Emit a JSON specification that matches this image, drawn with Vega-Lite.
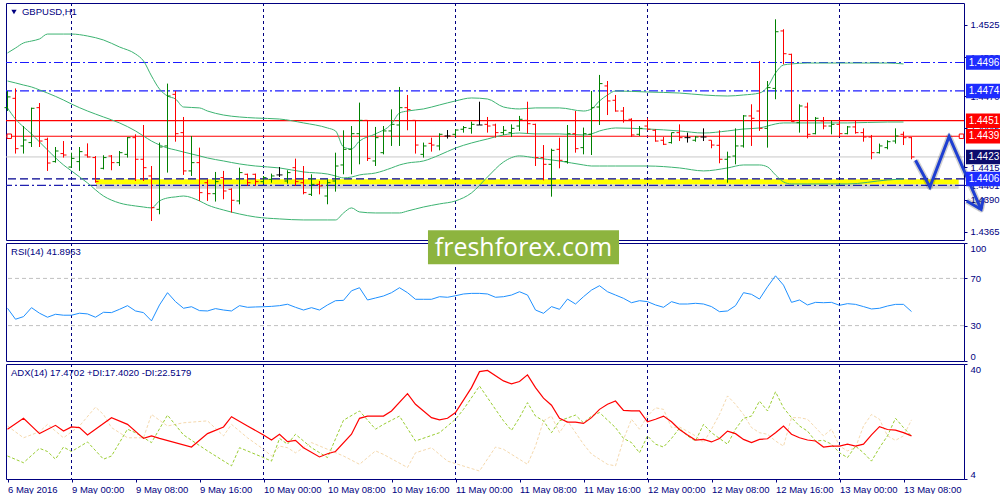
{
"$schema": "https://vega.github.io/schema/vega-lite/v6.json",
"background": "#ffffff",
"padding": {"left": 2, "top": 2, "right": 0, "bottom": 0},
"spacing": 3,
"bounds": "flush",
"config": {"view": {"stroke": "#000080", "strokeWidth": 1}, "font": "Liberation Sans",
  "axis": {"labelOverlap": false, "labelFont": "Liberation Sans", "labelFontSize": 9.5, "labelColor": "#000080", "tickColor": "#000080", "domain": false, "grid": false, "tickSize": 3}},
"resolve": {"scale": {"x": "independent", "y": "independent", "color": "independent", "strokeDash": "independent"}},
"datasets": {
"bars": [
{"i":0,"o":1.44611,"h":1.44740,"l":1.44585,"c":1.44694,"r":44.7},
{"i":1,"o":1.44683,"h":1.44760,"l":1.44256,"c":1.44294,"r":35.4},
{"i":2,"o":1.44315,"h":1.44469,"l":1.44256,"c":1.44361,"r":37.6},
{"i":3,"o":1.44341,"h":1.44611,"l":1.44307,"c":1.44606,"r":45.2},
{"i":4,"o":1.44611,"h":1.44647,"l":1.44307,"c":1.44353,"r":40.5},
{"i":5,"o":1.44366,"h":1.44379,"l":1.44122,"c":1.44183,"r":37.1},
{"i":6,"o":1.44194,"h":1.44307,"l":1.44186,"c":1.44276,"r":39.6},
{"i":7,"o":1.44256,"h":1.44353,"l":1.44225,"c":1.44245,"r":38.8},
{"i":8,"o":1.44152,"h":1.44263,"l":1.44147,"c":1.44219,"r":38.8},
{"i":9,"o":1.44194,"h":1.44307,"l":1.44122,"c":1.44271,"r":40.5},
{"i":10,"o":1.44245,"h":1.44335,"l":1.44225,"c":1.44230,"r":39.9},
{"i":11,"o":1.44225,"h":1.44237,"l":1.44031,"c":1.44039,"r":37.1},
{"i":12,"o":1.44142,"h":1.44243,"l":1.44134,"c":1.44225,"r":41.3},
{"i":13,"o":1.44237,"h":1.44245,"l":1.44127,"c":1.44186,"r":41.0},
{"i":14,"o":1.44186,"h":1.44276,"l":1.44160,"c":1.44263,"r":43.8},
{"i":15,"o":1.44250,"h":1.44384,"l":1.44225,"c":1.44379,"r":46.9},
{"i":16,"o":1.44379,"h":1.44405,"l":1.44044,"c":1.44212,"r":42.4},
{"i":17,"o":1.44212,"h":1.44477,"l":1.44044,"c":1.44147,"r":41.0},
{"i":18,"o":1.44083,"h":1.44160,"l":1.43735,"c":1.43838,"r":34.0},
{"i":19,"o":1.43825,"h":1.44341,"l":1.43787,"c":1.44307,"r":47.5},
{"i":20,"o":1.44315,"h":1.44797,"l":1.44109,"c":1.44701,"r":57.9},
{"i":21,"o":1.44714,"h":1.44740,"l":1.44348,"c":1.44410,"r":50.3},
{"i":22,"o":1.44418,"h":1.44539,"l":1.44091,"c":1.44122,"r":44.7},
{"i":23,"o":1.44122,"h":1.44392,"l":1.44083,"c":1.44186,"r":46.0},
{"i":24,"o":1.44186,"h":1.44302,"l":1.43890,"c":1.43954,"r":42.7},
{"i":25,"o":1.44031,"h":1.44057,"l":1.43890,"c":1.43946,"r":42.4},
{"i":26,"o":1.43946,"h":1.44114,"l":1.43885,"c":1.44039,"r":44.4},
{"i":27,"o":1.44070,"h":1.44122,"l":1.43903,"c":1.43967,"r":43.2},
{"i":28,"o":1.43980,"h":1.43988,"l":1.43800,"c":1.43895,"r":42.4},
{"i":29,"o":1.43890,"h":1.44147,"l":1.43864,"c":1.44109,"r":46.9},
{"i":30,"o":1.44096,"h":1.44101,"l":1.44006,"c":1.44031,"r":45.5},
{"i":31,"o":1.44096,"h":1.44101,"l":1.44006,"c":1.44039,"r":45.8},
{"i":32,"o":1.44039,"h":1.44083,"l":1.44024,"c":1.44070,"r":46.0},
{"i":33,"o":1.44057,"h":1.44101,"l":1.44031,"c":1.44083,"r":46.3},
{"i":34,"o":1.44091,"h":1.44152,"l":1.44075,"c":1.44091,"r":46.9},
{"i":35,"o":1.44044,"h":1.44127,"l":1.44024,"c":1.44109,"r":48.1},
{"i":36,"o":1.44147,"h":1.44217,"l":1.44006,"c":1.44039,"r":45.5},
{"i":37,"o":1.44031,"h":1.44160,"l":1.43941,"c":1.43954,"r":43.2},
{"i":38,"o":1.43941,"h":1.44096,"l":1.43928,"c":1.44018,"r":45.2},
{"i":39,"o":1.44018,"h":1.44044,"l":1.43941,"c":1.44006,"r":43.2},
{"i":40,"o":1.43928,"h":1.44057,"l":1.43864,"c":1.44031,"r":47.5},
{"i":41,"o":1.44044,"h":1.44263,"l":1.43962,"c":1.44160,"r":51.1},
{"i":42,"o":1.44168,"h":1.44436,"l":1.44096,"c":1.44289,"r":51.4},
{"i":43,"o":1.44289,"h":1.44469,"l":1.44096,"c":1.44410,"r":59.5},
{"i":44,"o":1.44410,"h":1.44650,"l":1.44173,"c":1.44513,"r":62.1},
{"i":45,"o":1.44513,"h":1.44513,"l":1.44199,"c":1.44219,"r":51.7},
{"i":46,"o":1.44199,"h":1.44462,"l":1.44160,"c":1.44379,"r":53.4},
{"i":47,"o":1.44263,"h":1.44469,"l":1.44250,"c":1.44431,"r":55.1},
{"i":48,"o":1.44431,"h":1.44598,"l":1.44315,"c":1.44482,"r":57.9},
{"i":49,"o":1.44477,"h":1.44771,"l":1.44315,"c":1.44611,"r":62.1},
{"i":50,"o":1.44611,"h":1.44709,"l":1.44436,"c":1.44596,"r":57.9},
{"i":51,"o":1.44513,"h":1.44513,"l":1.44256,"c":1.44322,"r":52.3},
{"i":52,"o":1.44250,"h":1.44341,"l":1.44225,"c":1.44315,"r":52.3},
{"i":53,"o":1.44335,"h":1.44379,"l":1.44271,"c":1.44322,"r":52.3},
{"i":54,"o":1.44315,"h":1.44413,"l":1.44281,"c":1.44405,"r":54.5},
{"i":55,"o":1.44392,"h":1.44438,"l":1.44372,"c":1.44392,"r":54.0},
{"i":56,"o":1.44405,"h":1.44444,"l":1.44384,"c":1.44438,"r":55.3},
{"i":57,"o":1.44444,"h":1.44469,"l":1.44418,"c":1.44457,"r":56.8},
{"i":58,"o":1.44451,"h":1.44503,"l":1.44410,"c":1.44482,"r":57.3},
{"i":59,"o":1.44477,"h":1.44657,"l":1.44477,"c":1.44477,"r":57.3},
{"i":60,"o":1.44482,"h":1.44539,"l":1.44418,"c":1.44469,"r":56.8},
{"i":61,"o":1.44477,"h":1.44487,"l":1.44379,"c":1.44418,"r":54.0},
{"i":62,"o":1.44418,"h":1.44469,"l":1.44400,"c":1.44436,"r":54.5},
{"i":63,"o":1.44418,"h":1.44482,"l":1.44384,"c":1.44451,"r":55.9},
{"i":64,"o":1.44469,"h":1.44547,"l":1.44431,"c":1.44521,"r":58.7},
{"i":65,"o":1.44513,"h":1.44657,"l":1.44410,"c":1.44487,"r":55.9},
{"i":66,"o":1.44482,"h":1.44487,"l":1.44160,"c":1.44225,"r":43.2},
{"i":67,"o":1.44225,"h":1.44322,"l":1.44049,"c":1.44173,"r":40.4},
{"i":68,"o":1.44173,"h":1.44294,"l":1.43923,"c":1.44281,"r":46.1},
{"i":69,"o":1.44289,"h":1.44379,"l":1.44142,"c":1.44204,"r":43.8},
{"i":70,"o":1.44194,"h":1.44477,"l":1.44178,"c":1.44410,"r":52.5},
{"i":71,"o":1.44410,"h":1.44585,"l":1.44263,"c":1.44294,"r":48.3},
{"i":72,"o":1.44302,"h":1.44457,"l":1.44250,"c":1.44410,"r":54.5},
{"i":73,"o":1.44405,"h":1.44740,"l":1.44245,"c":1.44611,"r":60.1},
{"i":74,"o":1.44616,"h":1.44864,"l":1.44477,"c":1.44797,"r":63.8},
{"i":75,"o":1.44779,"h":1.44817,"l":1.44554,"c":1.44663,"r":58.7},
{"i":76,"o":1.44668,"h":1.44709,"l":1.44580,"c":1.44585,"r":55.9},
{"i":77,"o":1.44585,"h":1.44616,"l":1.44495,"c":1.44513,"r":53.1},
{"i":78,"o":1.44521,"h":1.44529,"l":1.44384,"c":1.44400,"r":49.4},
{"i":79,"o":1.44405,"h":1.44469,"l":1.44392,"c":1.44451,"r":51.1},
{"i":80,"o":1.44469,"h":1.44529,"l":1.44436,"c":1.44444,"r":50.3},
{"i":81,"o":1.44436,"h":1.44444,"l":1.44348,"c":1.44353,"r":47.5},
{"i":82,"o":1.44359,"h":1.44384,"l":1.44322,"c":1.44328,"r":45.5},
{"i":83,"o":1.44341,"h":1.44418,"l":1.44333,"c":1.44418,"r":50.3},
{"i":84,"o":1.44418,"h":1.44482,"l":1.44353,"c":1.44379,"r":48.3},
{"i":85,"o":1.44379,"h":1.44418,"l":1.44341,"c":1.44379,"r":48.3},
{"i":86,"o":1.44359,"h":1.44392,"l":1.44348,"c":1.44384,"r":48.9},
{"i":87,"o":1.44384,"h":1.44451,"l":1.44353,"c":1.44384,"r":48.3},
{"i":88,"o":1.44359,"h":1.44359,"l":1.44297,"c":1.44322,"r":46.1},
{"i":89,"o":1.44320,"h":1.44436,"l":1.44181,"c":1.44212,"r":41.8},
{"i":90,"o":1.44212,"h":1.44271,"l":1.44031,"c":1.44230,"r":42.4},
{"i":91,"o":1.44237,"h":1.44451,"l":1.44173,"c":1.44315,"r":46.9},
{"i":92,"o":1.44315,"h":1.44554,"l":1.44302,"c":1.44547,"r":57.9},
{"i":93,"o":1.44547,"h":1.44637,"l":1.44315,"c":1.44529,"r":56.5},
{"i":94,"o":1.44585,"h":1.44972,"l":1.44431,"c":1.44451,"r":52.5},
{"i":95,"o":1.44451,"h":1.44817,"l":1.44302,"c":1.44766,"r":62.9},
{"i":96,"o":1.44760,"h":1.45294,"l":1.44676,"c":1.45198,"r":72.2},
{"i":97,"o":1.45204,"h":1.45217,"l":1.44946,"c":1.45028,"r":64.3},
{"i":98,"o":1.45023,"h":1.45028,"l":1.44503,"c":1.44503,"r":49.7},
{"i":99,"o":1.44495,"h":1.44637,"l":1.44418,"c":1.44624,"r":51.7},
{"i":100,"o":1.44616,"h":1.44650,"l":1.44374,"c":1.44405,"r":47.5},
{"i":101,"o":1.44410,"h":1.44539,"l":1.44405,"c":1.44529,"r":49.7},
{"i":102,"o":1.44508,"h":1.44539,"l":1.44444,"c":1.44469,"r":49.4},
{"i":103,"o":1.44469,"h":1.44513,"l":1.44405,"c":1.44482,"r":49.7},
{"i":104,"o":1.44482,"h":1.44513,"l":1.44392,"c":1.44410,"r":47.2},
{"i":105,"o":1.44410,"h":1.44469,"l":1.44405,"c":1.44462,"r":48.6},
{"i":106,"o":1.44462,"h":1.44508,"l":1.44410,"c":1.44418,"r":48.0},
{"i":107,"o":1.44418,"h":1.44451,"l":1.44348,"c":1.44384,"r":46.1},
{"i":108,"o":1.44384,"h":1.44400,"l":1.44212,"c":1.44263,"r":44.1},
{"i":109,"o":1.44263,"h":1.44333,"l":1.44256,"c":1.44315,"r":44.7},
{"i":110,"o":1.44302,"h":1.44359,"l":1.44289,"c":1.44348,"r":46.6},
{"i":111,"o":1.44353,"h":1.44451,"l":1.44333,"c":1.44392,"r":48.0},
{"i":112,"o":1.44405,"h":1.44426,"l":1.44322,"c":1.44379,"r":48.0},
{"i":113,"o":1.44379,"h":1.44384,"l":1.44212,"c":1.44230,"r":41.9}
],
"bb": [
{"i":0,"u":1.45034,"m":1.44817,"l":1.44609},{"i":1,"u":1.45072,"m":1.44802,"l":1.44523},{"i":2,"u":1.45111,"m":1.44786,"l":1.44462},{"i":3,"u":1.45126,"m":1.44771,"l":1.44408},{"i":4,"u":1.45142,"m":1.44748,"l":1.44346},{"i":5,"u":1.4518,"m":1.44724,"l":1.44284},{"i":7,"u":1.4518,"m":1.4467,"l":1.44168},{"i":8,"u":1.4518,"m":1.44639,"l":1.44122},{"i":10,"u":1.45165,"m":1.44585,"l":1.44029},{"i":12,"u":1.45134,"m":1.44539,"l":1.43928},{"i":14,"u":1.4508,"m":1.44493,"l":1.43874},{"i":16,"u":1.45026,"m":1.44431,"l":1.43851},{"i":17,"u":1.44972,"m":1.44392,"l":1.43843},{"i":18,"u":1.44856,"m":1.44353,"l":1.43836},{"i":19,"u":1.44755,"m":1.44323,"l":1.4389},{"i":20,"u":1.44701,"m":1.44299,"l":1.43913},{"i":21,"u":1.44678,"m":1.44284,"l":1.43921},{"i":22,"u":1.44616,"m":1.44268,"l":1.43928},{"i":24,"u":1.44609,"m":1.44238,"l":1.4389},{"i":25,"u":1.44585,"m":1.44222,"l":1.43859},{"i":27,"u":1.44554,"m":1.44199,"l":1.4382},{"i":29,"u":1.44539,"m":1.44176,"l":1.43789},{"i":31,"u":1.44531,"m":1.4416,"l":1.43766},{"i":34,"u":1.44523,"m":1.44145,"l":1.43751},{"i":37,"u":1.44493,"m":1.44114,"l":1.43743},{"i":40,"u":1.44454,"m":1.44098,"l":1.43743},{"i":41,"u":1.44431,"m":1.44083,"l":1.43743},{"i":42,"u":1.44307,"m":1.44068,"l":1.43797},{"i":43,"u":1.44292,"m":1.44075,"l":1.43836},{"i":44,"u":1.44353,"m":1.44091,"l":1.43805},{"i":46,"u":1.44408,"m":1.44106,"l":1.43797},{"i":48,"u":1.44485,"m":1.44145,"l":1.43797},{"i":49,"u":1.4457,"m":1.44168,"l":1.43797},{"i":50,"u":1.44585,"m":1.44183,"l":1.43812},{"i":52,"u":1.44601,"m":1.44199,"l":1.43843},{"i":54,"u":1.44632,"m":1.44245,"l":1.43867},{"i":56,"u":1.44663,"m":1.44299,"l":1.4389},{"i":58,"u":1.44686,"m":1.44338,"l":1.43952},{"i":60,"u":1.44678,"m":1.44369,"l":1.44075},{"i":62,"u":1.44616,"m":1.444,"l":1.44191},{"i":64,"u":1.44601,"m":1.44415,"l":1.44238},{"i":66,"u":1.44609,"m":1.44408,"l":1.44222},{"i":69,"u":1.44609,"m":1.44408,"l":1.44199},{"i":72,"u":1.44585,"m":1.444,"l":1.44168},{"i":73,"u":1.44601,"m":1.44408,"l":1.4416},{"i":74,"u":1.44663,"m":1.44431,"l":1.4416},{"i":75,"u":1.44709,"m":1.44446,"l":1.4416},{"i":76,"u":1.4474,"m":1.44454,"l":1.4416},{"i":80,"u":1.44732,"m":1.44446,"l":1.4416},{"i":84,"u":1.44724,"m":1.44431,"l":1.44145},{"i":87,"u":1.44709,"m":1.44415,"l":1.44122},{"i":90,"u":1.44701,"m":1.44431,"l":1.44145},{"i":92,"u":1.44709,"m":1.44446,"l":1.44168},{"i":94,"u":1.44724,"m":1.44454,"l":1.44168},{"i":95,"u":1.44771,"m":1.44469,"l":1.44153},{"i":96,"u":1.44879,"m":1.44485,"l":1.44091},{"i":97,"u":1.44941,"m":1.44493,"l":1.44037},{"i":98,"u":1.44949,"m":1.44493,"l":1.44021},{"i":100,"u":1.44956,"m":1.44493,"l":1.44021},{"i":105,"u":1.44956,"m":1.44493,"l":1.44021},{"i":110,"u":1.44956,"m":1.445,"l":1.44052},{"i":112,"u":1.44949,"m":1.445,"l":1.4406}
],
"levels": [{"p":1.4496,"t":"dd"},{"p":1.4474,"t":"dd"},{"p":1.4451,"t":"red"},{"p":1.4439,"t":"red"},{"p":1.4423,"t":"bid"},{"p":1.4406,"t":"dash"},{"p":1.4401,"t":"dd2"}],
"tags": [{"p":1.4496,"lab":"1.4496","t":"blue"},{"p":1.4474,"lab":"1.4474","t":"blue"},{"p":1.4451,"lab":"1.4451","t":"red"},{"p":1.4439,"lab":"1.4439","t":"red"},{"p":1.4423,"lab":"1.4423","t":"navy"},{"p":1.4406,"lab":"1.4406","t":"blue"}],
"zone": [{"from":11.06,"to":118.9,"top":1.44058,"bottom":1.44018,"shade":1.43985}],
"handles": [{"i":0.22,"p":1.4439},{"i":119.25,"p":1.4439}],
"arrow": [{"g":"zig","k":0,"i":113.5,"p":1.44204},{"g":"zig","k":1,"i":115.3,"p":1.43998},{"g":"zig","k":2,"i":117.7,"p":1.44388},{"g":"zig","k":3,"i":121.7,"p":1.43824},{"g":"head","k":0,"i":119.9,"p":1.4389},{"g":"head","k":1,"i":121.7,"p":1.43824},{"g":"head","k":2,"i":122.0,"p":1.43913}],
"grid": [{"i":8},{"i":32},{"i":56},{"i":80},{"i":104}],
"rsiLevels": [{"v":30},{"v":70}],
"adx": [
{"s":"ADX","i":0,"v":19.6},{"s":"ADX","i":2,"v":23.0},{"s":"ADX","i":4,"v":18.2},{"s":"ADX","i":6,"v":20.8},{"s":"ADX","i":7,"v":19.0},{"s":"ADX","i":8,"v":20.3},{"s":"ADX","i":9,"v":20.1},{"s":"ADX","i":10,"v":17.8},{"s":"ADX","i":13,"v":23.2},{"s":"ADX","i":15,"v":21.1},{"s":"ADX","i":17,"v":16.7},{"s":"ADX","i":18,"v":17.5},{"s":"ADX","i":19,"v":16.7},{"s":"ADX","i":23,"v":14.0},{"s":"ADX","i":25,"v":18.2},{"s":"ADX","i":27,"v":20.3},{"s":"ADX","i":28,"v":23.5},{"s":"ADX","i":30,"v":20.6},{"s":"ADX","i":32,"v":17.8},{"s":"ADX","i":33,"v":16.2},{"s":"ADX","i":34,"v":18.0},{"s":"ADX","i":35,"v":15.7},{"s":"ADX","i":36,"v":16.1},{"s":"ADX","i":37,"v":13.8},{"s":"ADX","i":39,"v":10.9},{"s":"ADX","i":40,"v":11.9},{"s":"ADX","i":41,"v":12.6},{"s":"ADX","i":43,"v":18.0},{"s":"ADX","i":44,"v":23.0},{"s":"ADX","i":45,"v":23.7},{"s":"ADX","i":47,"v":23.7},{"s":"ADX","i":48,"v":25.3},{"s":"ADX","i":50,"v":30.7},{"s":"ADX","i":51,"v":27.4},{"s":"ADX","i":53,"v":23.2},{"s":"ADX","i":54,"v":22.5},{"s":"ADX","i":55,"v":23.0},{"s":"ADX","i":56,"v":24.8},{"s":"ADX","i":58,"v":32.6},{"s":"ADX","i":59,"v":37.6},{"s":"ADX","i":60,"v":38.0},{"s":"ADX","i":62,"v":34.7},{"s":"ADX","i":63,"v":33.8},{"s":"ADX","i":64,"v":34.5},{"s":"ADX","i":65,"v":36.6},{"s":"ADX","i":66,"v":32.6},{"s":"ADX","i":67,"v":29.3},{"s":"ADX","i":68,"v":27.1},{"s":"ADX","i":69,"v":23.0},{"s":"ADX","i":70,"v":21.8},{"s":"ADX","i":71,"v":21.8},{"s":"ADX","i":72,"v":21.4},{"s":"ADX","i":73,"v":23.2},{"s":"ADX","i":74,"v":25.8},{"s":"ADX","i":75,"v":27.4},{"s":"ADX","i":76,"v":28.4},{"s":"ADX","i":77,"v":25.5},{"s":"ADX","i":78,"v":25.3},{"s":"ADX","i":79,"v":25.3},{"s":"ADX","i":80,"v":21.9},{"s":"ADX","i":81,"v":22.7},{"s":"ADX","i":82,"v":23.7},{"s":"ADX","i":83,"v":21.9},{"s":"ADX","i":84,"v":19.5},{"s":"ADX","i":85,"v":17.8},{"s":"ADX","i":86,"v":16.2},{"s":"ADX","i":87,"v":16.4},{"s":"ADX","i":88,"v":15.6},{"s":"ADX","i":89,"v":16.7},{"s":"ADX","i":90,"v":19.0},{"s":"ADX","i":91,"v":18.2},{"s":"ADX","i":92,"v":16.4},{"s":"ADX","i":93,"v":15.4},{"s":"ADX","i":94,"v":16.4},{"s":"ADX","i":95,"v":16.6},{"s":"ADX","i":96,"v":18.5},{"s":"ADX","i":97,"v":20.6},{"s":"ADX","i":98,"v":18.0},{"s":"ADX","i":99,"v":16.9},{"s":"ADX","i":100,"v":16.2},{"s":"ADX","i":101,"v":15.9},{"s":"ADX","i":102,"v":14.0},{"s":"ADX","i":103,"v":14.3},{"s":"ADX","i":104,"v":14.3},{"s":"ADX","i":105,"v":14.9},{"s":"ADX","i":106,"v":14.3},{"s":"ADX","i":107,"v":14.9},{"s":"ADX","i":108,"v":17.8},{"s":"ADX","i":109,"v":20.4},{"s":"ADX","i":110,"v":19.5},{"s":"ADX","i":111,"v":19.3},{"s":"ADX","i":112,"v":18.5},{"s":"ADX","i":113,"v":17.5},
{"s":"+DI","i":0,"v":11.2},{"s":"+DI","i":2,"v":9.1},{"s":"+DI","i":4,"v":13.6},{"s":"+DI","i":5,"v":12.6},{"s":"+DI","i":6,"v":10.2},{"s":"+DI","i":7,"v":14.0},{"s":"+DI","i":8,"v":12.6},{"s":"+DI","i":10,"v":15.6},{"s":"+DI","i":12,"v":10.2},{"s":"+DI","i":13,"v":11.2},{"s":"+DI","i":15,"v":19.6},{"s":"+DI","i":16,"v":18.5},{"s":"+DI","i":18,"v":15.4},{"s":"+DI","i":20,"v":24.0},{"s":"+DI","i":22,"v":17.8},{"s":"+DI","i":25,"v":12.8},{"s":"+DI","i":28,"v":8.1},{"s":"+DI","i":29,"v":13.8},{"s":"+DI","i":32,"v":10.7},{"s":"+DI","i":33,"v":9.6},{"s":"+DI","i":34,"v":16.7},{"s":"+DI","i":35,"v":14.9},{"s":"+DI","i":36,"v":18.0},{"s":"+DI","i":38,"v":13.8},{"s":"+DI","i":40,"v":10.7},{"s":"+DI","i":42,"v":22.4},{"s":"+DI","i":44,"v":25.3},{"s":"+DI","i":46,"v":19.6},{"s":"+DI","i":47,"v":21.1},{"s":"+DI","i":49,"v":23.7},{"s":"+DI","i":51,"v":15.9},{"s":"+DI","i":54,"v":18.5},{"s":"+DI","i":56,"v":22.7},{"s":"+DI","i":57,"v":25.8},{"s":"+DI","i":59,"v":33.1},{"s":"+DI","i":61,"v":25.8},{"s":"+DI","i":62,"v":22.2},{"s":"+DI","i":63,"v":19.2},{"s":"+DI","i":64,"v":23.2},{"s":"+DI","i":65,"v":27.9},{"s":"+DI","i":66,"v":23.7},{"s":"+DI","i":67,"v":22.2},{"s":"+DI","i":68,"v":18.5},{"s":"+DI","i":69,"v":22.2},{"s":"+DI","i":71,"v":24.0},{"s":"+DI","i":72,"v":21.6},{"s":"+DI","i":73,"v":23.7},{"s":"+DI","i":74,"v":24.8},{"s":"+DI","i":76,"v":20.1},{"s":"+DI","i":77,"v":16.7},{"s":"+DI","i":78,"v":15.4},{"s":"+DI","i":79,"v":12.2},{"s":"+DI","i":80,"v":17.5},{"s":"+DI","i":81,"v":14.9},{"s":"+DI","i":82,"v":14.0},{"s":"+DI","i":83,"v":16.7},{"s":"+DI","i":84,"v":19.9},{"s":"+DI","i":85,"v":17.5},{"s":"+DI","i":86,"v":15.9},{"s":"+DI","i":87,"v":21.1},{"s":"+DI","i":88,"v":18.5},{"s":"+DI","i":89,"v":16.7},{"s":"+DI","i":90,"v":14.9},{"s":"+DI","i":91,"v":19.6},{"s":"+DI","i":92,"v":23.0},{"s":"+DI","i":93,"v":23.7},{"s":"+DI","i":94,"v":28.4},{"s":"+DI","i":95,"v":25.3},{"s":"+DI","i":96,"v":31.3},{"s":"+DI","i":97,"v":26.3},{"s":"+DI","i":98,"v":23.2},{"s":"+DI","i":99,"v":20.6},{"s":"+DI","i":100,"v":19.0},{"s":"+DI","i":101,"v":15.9},{"s":"+DI","i":102,"v":16.1},{"s":"+DI","i":103,"v":14.9},{"s":"+DI","i":104,"v":12.2},{"s":"+DI","i":105,"v":10.7},{"s":"+DI","i":106,"v":14.3},{"s":"+DI","i":107,"v":12.2},{"s":"+DI","i":108,"v":9.6},{"s":"+DI","i":109,"v":13.8},{"s":"+DI","i":110,"v":17.5},{"s":"+DI","i":111,"v":23.0},{"s":"+DI","i":112,"v":20.1},{"s":"+DI","i":113,"v":17.4},
{"s":"-DI","i":0,"v":20.6},{"s":"-DI","i":2,"v":16.9},{"s":"-DI","i":4,"v":18.8},{"s":"-DI","i":5,"v":21.1},{"s":"-DI","i":7,"v":16.9},{"s":"-DI","i":9,"v":20.6},{"s":"-DI","i":11,"v":26.5},{"s":"-DI","i":12,"v":24.2},{"s":"-DI","i":13,"v":20.1},{"s":"-DI","i":15,"v":16.9},{"s":"-DI","i":17,"v":16.9},{"s":"-DI","i":18,"v":24.2},{"s":"-DI","i":20,"v":20.6},{"s":"-DI","i":22,"v":21.6},{"s":"-DI","i":25,"v":22.2},{"s":"-DI","i":27,"v":17.5},{"s":"-DI","i":28,"v":21.1},{"s":"-DI","i":30,"v":16.9},{"s":"-DI","i":32,"v":13.3},{"s":"-DI","i":33,"v":11.2},{"s":"-DI","i":34,"v":14.3},{"s":"-DI","i":35,"v":13.8},{"s":"-DI","i":36,"v":12.2},{"s":"-DI","i":38,"v":15.4},{"s":"-DI","i":40,"v":13.3},{"s":"-DI","i":42,"v":11.2},{"s":"-DI","i":44,"v":8.6},{"s":"-DI","i":46,"v":12.8},{"s":"-DI","i":47,"v":11.7},{"s":"-DI","i":50,"v":7.6},{"s":"-DI","i":51,"v":12.2},{"s":"-DI","i":53,"v":13.8},{"s":"-DI","i":55,"v":9.6},{"s":"-DI","i":59,"v":6.5},{"s":"-DI","i":61,"v":14.0},{"s":"-DI","i":62,"v":13.3},{"s":"-DI","i":65,"v":8.6},{"s":"-DI","i":66,"v":14.3},{"s":"-DI","i":67,"v":22.2},{"s":"-DI","i":68,"v":23.7},{"s":"-DI","i":69,"v":18.5},{"s":"-DI","i":70,"v":22.2},{"s":"-DI","i":72,"v":14.9},{"s":"-DI","i":73,"v":11.8},{"s":"-DI","i":75,"v":8.6},{"s":"-DI","i":76,"v":8.1},{"s":"-DI","i":77,"v":16.4},{"s":"-DI","i":78,"v":22.7},{"s":"-DI","i":79,"v":19.6},{"s":"-DI","i":80,"v":23.7},{"s":"-DI","i":81,"v":26.3},{"s":"-DI","i":82,"v":25.8},{"s":"-DI","i":83,"v":20.1},{"s":"-DI","i":84,"v":20.3},{"s":"-DI","i":86,"v":17.5},{"s":"-DI","i":87,"v":15.4},{"s":"-DI","i":88,"v":19.6},{"s":"-DI","i":89,"v":24.2},{"s":"-DI","i":90,"v":30.0},{"s":"-DI","i":91,"v":27.4},{"s":"-DI","i":92,"v":24.2},{"s":"-DI","i":93,"v":20.1},{"s":"-DI","i":94,"v":18.5},{"s":"-DI","i":95,"v":18.0},{"s":"-DI","i":96,"v":15.9},{"s":"-DI","i":97,"v":14.3},{"s":"-DI","i":98,"v":23.2},{"s":"-DI","i":99,"v":23.2},{"s":"-DI","i":100,"v":22.7},{"s":"-DI","i":101,"v":20.1},{"s":"-DI","i":102,"v":17.5},{"s":"-DI","i":103,"v":19.6},{"s":"-DI","i":104,"v":14.3},{"s":"-DI","i":105,"v":12.8},{"s":"-DI","i":106,"v":13.8},{"s":"-DI","i":107,"v":20.6},{"s":"-DI","i":108,"v":24.2},{"s":"-DI","i":109,"v":22.7},{"s":"-DI","i":110,"v":17.5},{"s":"-DI","i":111,"v":16.1},{"s":"-DI","i":112,"v":17.5},{"s":"-DI","i":113,"v":22.5}
]
},
"vconcat": [
{
"width": 958, "height": 237,
"resolve": {"axis": {"x": "independent", "y": "independent"}},
"layer": [
{"data": {"name": "zone"}, "mark": {"type": "rect", "color": "#c4c4c4", "opacity": 0.75},
 "encoding": {
  "x": {"field": "from", "type": "quantitative", "scale": {"domain": [-0.1875, 119.5625], "nice": false, "zero": false}, "axis": null},
  "x2": {"field": "to"},
  "y": {"field": "bottom", "type": "quantitative", "scale": {"domain": [1.43588, 1.4542], "nice": false, "zero": false},
        "axis": {"orient": "right", "title": null, "values": [1.4365, 1.439, 1.4401, 1.4415, 1.4445, 1.447, 1.45, 1.4525], "format": ".4f", "labelPadding": 3, "labelFlush": false, "labelOverlap": false}},
  "y2": {"field": "shade"}}},
{"data": {"name": "zone"}, "mark": {"type": "rect", "color": "#ffff00"},
 "encoding": {"x": {"field": "from", "type": "quantitative", "axis": null}, "x2": {"field": "to"}, "y": {"field": "bottom", "type": "quantitative", "axis": null}, "y2": {"field": "top"}}},
{"data": {"name": "grid"}, "mark": {"type": "rule", "stroke": "#000080", "strokeDash": [3, 3], "strokeWidth": 1},
 "encoding": {"x": {"field": "i", "type": "quantitative", "axis": null}}},
{"data": {"name": "levels"}, "transform": [{"filter": "datum.t == 'bid'"}], "mark": {"type": "rule", "stroke": "#c8c8c8", "strokeWidth": 1},
 "encoding": {"y": {"field": "p", "type": "quantitative", "axis": null}}},
{"data": {"name": "levels"}, "transform": [{"filter": "datum.t == 'dd'"}], "mark": {"type": "rule", "stroke": "#1c1cff", "strokeWidth": 1.2, "strokeDash": [9, 3, 2, 3]},
 "encoding": {"y": {"field": "p", "type": "quantitative", "axis": null}}},
{"data": {"name": "levels"}, "transform": [{"filter": "datum.t == 'dd2'"}], "mark": {"type": "rule", "stroke": "#2020b0", "strokeWidth": 1.2, "strokeDash": [9, 3, 2, 3]},
 "encoding": {"y": {"field": "p", "type": "quantitative", "axis": null}}},
{"data": {"name": "levels"}, "transform": [{"filter": "datum.t == 'dash'"}], "mark": {"type": "rule", "stroke": "#000090", "strokeWidth": 1.2, "strokeDash": [8, 4]},
 "encoding": {"y": {"field": "p", "type": "quantitative", "axis": null}}},
{"data": {"name": "levels"}, "transform": [{"filter": "datum.t == 'red'"}], "mark": {"type": "rule", "stroke": "#ff0000", "strokeWidth": 1.2},
 "encoding": {"y": {"field": "p", "type": "quantitative", "axis": null}}},
{"data": {"name": "bb"}, "mark": {"type": "line", "stroke": "#3cb371", "strokeWidth": 1, "interpolate": "monotone"},
 "encoding": {"x": {"field": "i", "type": "quantitative", "axis": null}, "y": {"field": "u", "type": "quantitative", "axis": null}}},
{"data": {"name": "bb"}, "mark": {"type": "line", "stroke": "#3cb371", "strokeWidth": 1, "interpolate": "monotone"},
 "encoding": {"x": {"field": "i", "type": "quantitative", "axis": null}, "y": {"field": "m", "type": "quantitative", "axis": null}}},
{"data": {"name": "bb"}, "mark": {"type": "line", "stroke": "#3cb371", "strokeWidth": 1, "interpolate": "monotone"},
 "encoding": {"x": {"field": "i", "type": "quantitative", "axis": null}, "y": {"field": "l", "type": "quantitative", "axis": null}}},
{"data": {"name": "bars"}, "mark": {"type": "rule", "strokeWidth": 1},
 "encoding": {
  "x": {"field": "i", "type": "quantitative", "axis": null},
  "y": {"field": "l", "type": "quantitative", "axis": null}, "y2": {"field": "h"},
  "color": {"condition": [{"test": "datum.c > datum.o", "value": "#008000"}, {"test": "datum.c < datum.o", "value": "#ff0000"}], "value": "#000000"}}},
{"data": {"name": "bars"}, "mark": {"type": "point", "shape": "M-1,0H0", "size": 36, "strokeWidth": 1, "filled": false, "opacity": 1},
 "encoding": {
  "x": {"field": "i", "type": "quantitative", "axis": null},
  "y": {"field": "o", "type": "quantitative", "axis": null},
  "color": {"condition": [{"test": "datum.c > datum.o", "value": "#008000"}, {"test": "datum.c < datum.o", "value": "#ff0000"}], "value": "#000000"}}},
{"data": {"name": "bars"}, "mark": {"type": "point", "shape": "M0,0H1", "size": 36, "strokeWidth": 1, "filled": false, "opacity": 1},
 "encoding": {
  "x": {"field": "i", "type": "quantitative", "axis": null},
  "y": {"field": "c", "type": "quantitative", "axis": null},
  "color": {"condition": [{"test": "datum.c > datum.o", "value": "#008000"}, {"test": "datum.c < datum.o", "value": "#ff0000"}], "value": "#000000"}}},
{"data": {"name": "handles"}, "mark": {"type": "point", "shape": "square", "size": 20, "filled": true, "fill": "#ffffff", "stroke": "#ff0000", "strokeWidth": 1, "opacity": 1, "clip": false},
 "encoding": {"x": {"field": "i", "type": "quantitative", "axis": null}, "y": {"field": "p", "type": "quantitative", "axis": null}}},
{"data": {"name": "arrow"}, "mark": {"type": "line", "stroke": "#000000", "strokeWidth": 6, "opacity": 0.18, "clip": false, "strokeJoin": "round"},
 "encoding": {"x": {"field": "i", "type": "quantitative", "axis": null}, "y": {"field": "p", "type": "quantitative", "axis": null}, "detail": {"field": "g"}, "order": {"field": "k"}}},
{"data": {"name": "arrow"}, "mark": {"type": "line", "stroke": "#1f3fd2", "strokeWidth": 3, "clip": false, "strokeJoin": "miter"},
 "encoding": {"x": {"field": "i", "type": "quantitative", "axis": null}, "y": {"field": "p", "type": "quantitative", "axis": null}, "detail": {"field": "g"}, "order": {"field": "k"}}},
{"data": {"name": "tags"}, "mark": {"type": "point", "shape": "M-1,-0.4H1V0.4H-1Z", "size": 1296, "filled": true, "opacity": 1, "clip": false},
 "encoding": {"x": {"datum": 122.06, "type": "quantitative", "axis": null}, "y": {"field": "p", "type": "quantitative", "axis": null},
  "color": {"field": "t", "type": "nominal", "legend": null, "scale": {"domain": ["blue", "red", "navy"], "range": ["#1d2cff", "#ff0000", "#0c0c6e"]}}}},
{"data": {"name": "tags"}, "mark": {"type": "text", "color": "#ffffff", "font": "Liberation Sans", "fontSize": 10, "align": "center", "baseline": "middle", "clip": false},
 "encoding": {"x": {"datum": 122.06, "type": "quantitative", "axis": null}, "y": {"field": "p", "type": "quantitative", "axis": null}, "text": {"field": "lab"}}},
{"data": {"values": [{}]}, "mark": {"type": "point", "shape": "triangle-down", "size": 28, "filled": true, "color": "#000080", "opacity": 1},
 "encoding": {"x": {"datum": 0.81, "type": "quantitative", "axis": null}, "y": {"datum": 1.4535, "type": "quantitative", "axis": null}}},
{"data": {"values": [{}]}, "mark": {"type": "text", "text": "GBPUSD,H1", "color": "#000080", "font": "Liberation Sans", "fontSize": 9.5, "align": "left", "baseline": "middle"},
 "encoding": {"x": {"datum": 1.81, "type": "quantitative", "axis": null}, "y": {"datum": 1.4535, "type": "quantitative", "axis": null}}}
]
},
{
"width": 958, "height": 118,
"resolve": {"axis": {"x": "independent", "y": "independent"}},
"layer": [
{"data": {"name": "grid"}, "mark": {"type": "rule", "stroke": "#000080", "strokeDash": [3, 3], "strokeWidth": 1},
 "encoding": {"x": {"field": "i", "type": "quantitative", "scale": {"domain": [-0.1875, 119.5625], "nice": false, "zero": false}, "axis": null}}},
{"data": {"name": "rsiLevels"}, "mark": {"type": "rule", "stroke": "#c0c0c0", "strokeDash": [4, 3], "strokeWidth": 1},
 "encoding": {"y": {"field": "v", "type": "quantitative", "scale": {"domain": [0, 100], "nice": false, "zero": false},
   "axis": {"orient": "right", "title": null, "values": [0, 30, 70, 100], "labelPadding": 3, "labelFlush": true, "labelOverlap": false}}}},
{"data": {"name": "bars"}, "mark": {"type": "line", "stroke": "#1e90ff", "strokeWidth": 1},
 "encoding": {"x": {"field": "i", "type": "quantitative", "axis": null}, "y": {"field": "r", "type": "quantitative", "axis": null}}},
{"data": {"values": [{}]}, "mark": {"type": "text", "text": "RSI(14) 41.8963", "color": "#000080", "font": "Liberation Sans", "fontSize": 9.5, "align": "left", "baseline": "middle"},
 "encoding": {"x": {"datum": 0.44, "type": "quantitative", "axis": null}, "y": {"datum": 92.4, "type": "quantitative", "axis": null}}},
{"data": {"values": [{"x1": 52.56, "x2": 76.44, "y1": 81.9, "y2": 110.8}]}, "mark": {"type": "rect", "color": "#8db43f", "clip": false},
 "encoding": {"x": {"field": "x1", "type": "quantitative", "axis": null}, "x2": {"field": "x2"}, "y": {"field": "y1", "type": "quantitative", "axis": null}, "y2": {"field": "y2"}}},
{"data": {"values": [{"t": "freshforex.com"}]}, "mark": {"type": "text", "color": "#ffffff", "font": "Open Sans", "fontSize": 25, "align": "center", "baseline": "middle", "clip": false},
 "encoding": {"x": {"datum": 64.5, "type": "quantitative", "axis": null}, "y": {"datum": 95.8, "type": "quantitative", "axis": null}, "text": {"field": "t"}}}
]
},
{
"width": 958, "height": 115,
"resolve": {"axis": {"x": "independent", "y": "independent"}},
"layer": [
{"data": {"name": "grid"}, "mark": {"type": "rule", "stroke": "#000080", "strokeDash": [3, 3], "strokeWidth": 1},
 "encoding": {"x": {"field": "i", "type": "quantitative", "scale": {"domain": [-0.1875, 119.5625], "nice": false, "zero": false},
   "axis": {"orient": "bottom", "title": null, "values": [0, 8, 16, 24, 32, 40, 48, 56, 64, 72, 80, 88, 96, 104, 112], "labelExpr": "['6 May 2016','9 May 00:00','9 May 08:00','9 May 16:00','10 May 00:00','10 May 08:00','10 May 16:00','11 May 00:00','11 May 08:00','11 May 16:00','12 May 00:00','12 May 08:00','12 May 16:00','13 May 00:00','13 May 08:00'][round(datum.value/8)]", "labelAlign": "left", "labelFlush": false, "labelPadding": 2, "labelOverlap": false}}}},
{"data": {"name": "adx"}, "transform": [{"filter": "datum.s == '-DI'"}], "mark": {"type": "line", "stroke": "#f5d9ae", "strokeWidth": 1, "strokeDash": [3, 2]},
 "encoding": {"x": {"field": "i", "type": "quantitative", "axis": null}, "y": {"field": "v", "type": "quantitative", "scale": {"domain": [4, 40], "nice": false, "zero": false},
   "axis": {"orient": "right", "title": null, "values": [4, 40], "labelPadding": 3, "labelFlush": true, "labelOverlap": false}}}},
{"data": {"name": "adx"}, "transform": [{"filter": "datum.s == '+DI'"}], "mark": {"type": "line", "stroke": "#9acd32", "strokeWidth": 1, "strokeDash": [3, 2]},
 "encoding": {"x": {"field": "i", "type": "quantitative", "axis": null}, "y": {"field": "v", "type": "quantitative", "axis": null}}},
{"data": {"name": "adx"}, "transform": [{"filter": "datum.s == 'ADX'"}], "mark": {"type": "line", "stroke": "#ff0000", "strokeWidth": 1.2},
 "encoding": {"x": {"field": "i", "type": "quantitative", "axis": null}, "y": {"field": "v", "type": "quantitative", "axis": null}}},
{"data": {"values": [{}]}, "mark": {"type": "text", "text": "ADX(14) 17.4702 +DI:17.4020 -DI:22.5179", "color": "#000080", "font": "Liberation Sans", "fontSize": 9.5, "align": "left", "baseline": "middle"},
 "encoding": {"x": {"datum": 0.44, "type": "quantitative", "axis": null}, "y": {"datum": 37.2, "type": "quantitative", "axis": null}}}
]
}
]
}
